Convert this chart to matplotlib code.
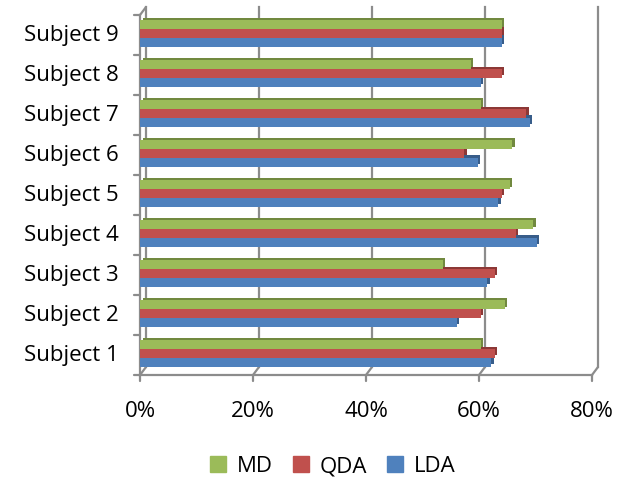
import numpy as np
import matplotlib
matplotlib.use("Agg")
import matplotlib.pyplot as plt
import matplotlib.transforms as mtransforms
from matplotlib.patches import Patch

subjects = ["Subject 1", "Subject 2", "Subject 3", "Subject 4", "Subject 5",
            "Subject 6", "Subject 7", "Subject 8", "Subject 9"]
md = [0.603, 0.646, 0.536, 0.696, 0.654, 0.659, 0.603, 0.585, 0.640]
qda = [0.628, 0.603, 0.628, 0.665, 0.640, 0.574, 0.684, 0.640, 0.640]
lda = [0.622, 0.561, 0.615, 0.702, 0.634, 0.598, 0.690, 0.603, 0.640]
xticks = [0.0, 0.2, 0.4, 0.6, 0.8]
xticklabels = ["0%", "20%", "40%", "60%", "80%"]

colors = {"MD": "#9BBB59", "QDA": "#C0504D", "LDA": "#4F81BD"}
darks = {"MD": "#71893F", "QDA": "#8C3836", "LDA": "#385D8A"}
grid_c = "#8C8C8C"
FS = 16

plt.rcParams["font.family"] = ["Open Sans", "DejaVu Sans"]

W, H = 623, 485
fig = plt.figure(figsize=(W / 100, H / 100), dpi=100)
L, R, T, B = 140, 592, 16, 376
ax = fig.add_axes([L / W, 1 - B / H, (R - L) / W, (B - T) / H])
ax.set_xlim(0, 0.8)
ax.set_ylim(0.5, 9.5)
for s in ax.spines.values():
    s.set_visible(False)
ax.set_xticks([])
ax.set_yticks([])


def seg(p0, c0, p1, c1):
    # straight grey line between two points given in (possibly different) coordinate systems
    ax.annotate("", xy=p1, xycoords=c1, xytext=p0, textcoords=c0,
                arrowprops=dict(arrowstyle="-", color=grid_c, lw=1.6, shrinkA=0, shrinkB=0),
                annotation_clip=False, zorder=0)


# back wall is shifted a few pixels right and up
dx, dy = 6, 8
back = ax.transData + mtransforms.ScaledTranslation(dx / 100, dy / 100, fig.dpi_scale_trans)
label_tr = ax.transData + mtransforms.ScaledTranslation(0, -0.25, fig.dpi_scale_trans)
for xv, lab in zip(xticks, xticklabels):
    ax.plot([xv, xv], [0.5, 9.5], color=grid_c, lw=1.6, transform=back, clip_on=False, zorder=0)
    seg((xv, 0.5), "data", (xv, 0.5), back)
    seg((0, -6), "offset pixels", (xv, 0.5), "data")
    ax.text(xv, 0.5, lab, transform=label_tr, ha="center", va="top", fontsize=FS)

# front floor edge and left axis
ax.plot([0, 0.8], [0.5, 0.5], color=grid_c, lw=1.6, clip_on=False, zorder=1)
ax.plot([0, 0], [0.5, 9.5], color=grid_c, lw=1.6, clip_on=False, zorder=1)
seg((0, 9.5), "data", (0, 9.5), back)
for k in range(10):
    seg((-6, 0), "offset pixels", (0, 0.5 + k), "data")

y = np.arange(1, 10)
h = 0.22
shift = 0.04
depth = ax.transData + mtransforms.ScaledTranslation(2.5 / 100, 2.5 / 100, fig.dpi_scale_trans)
for name, vals, off in [("MD", md, h), ("QDA", qda, 0.0), ("LDA", lda, -h)]:
    yy = y + off + shift
    # darker copy behind gives the top and end faces
    ax.barh(yy, vals, height=h, color=darks[name], transform=depth, zorder=2, clip_on=False)
    ax.barh(yy, vals, height=h, color=colors[name], zorder=3, clip_on=False)

for yi, lab in zip(y, subjects):
    ax.text(-0.037, yi, lab, ha="right", va="center", fontsize=FS)

handles = [Patch(color=colors[n]) for n in ["MD", "QDA", "LDA"]]
fig.legend(handles, ["MD", "QDA", "LDA"], loc="center", bbox_to_anchor=(333 / W, 1 - 467 / H),
           ncol=3, frameon=False, fontsize=FS, handlelength=0.7, handleheight=0.7,
           handletextpad=0.5, columnspacing=0.9)

fig.savefig("out.png", dpi=100)
